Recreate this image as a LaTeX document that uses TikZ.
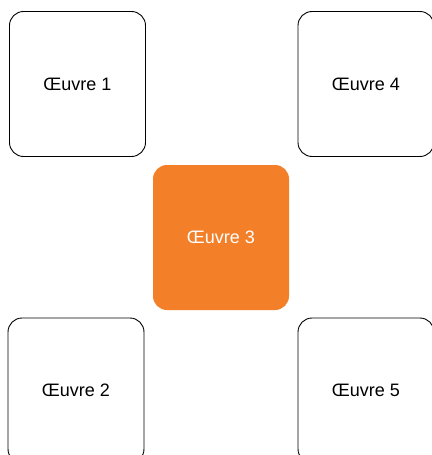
\documentclass[tikz,border=0pt]{standalone}
\usepackage{fontspec}
\setmainfont{Liberation Sans}
\usepackage{tikz}
\usetikzlibrary{positioning}

\definecolor{oeuvreorange}{RGB}{243,128,41}

\begin{document}
\begin{tikzpicture}[x=1pt, y=-1pt,
    oeuvre/.style={rectangle,
        rounded corners=14pt,
        minimum width=136pt,
        minimum height=145pt,
        inner sep=0pt,
        font=\fontsize{18}{20}\selectfont},
    plain/.style={oeuvre,draw=black,line width=0.9pt,fill=white},
    active/.style={oeuvre,fill=oeuvreorange,text=white}]

\useasboundingbox (0,0) rectangle (431,455);

\node[plain]  (o1) at (77.5,84)   {Œuvre 1};
\node[plain]  (o4) at (366,84)    {Œuvre 4};
\node[active] (o3) at (221,237.5) {Œuvre 3};
\node[plain]  (o2) at (76,390.5)  {Œuvre 2};
\node[plain]  (o5) at (366,390.5) {Œuvre 5};

\end{tikzpicture}
\end{document}
